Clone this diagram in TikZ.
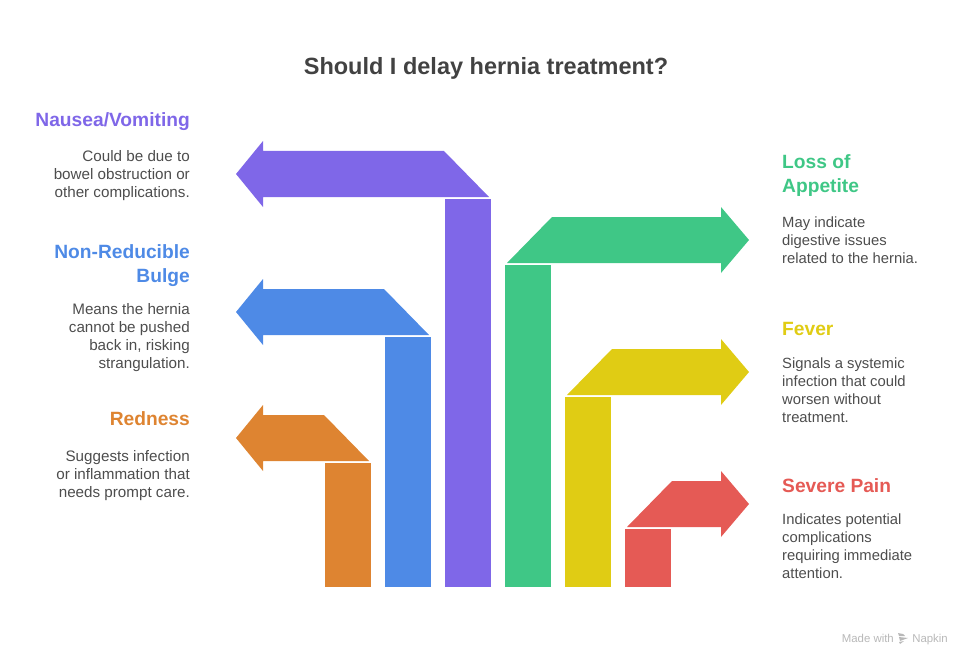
\documentclass[tikz,border=0pt]{standalone}
\usepackage{fontspec}
\usepackage{xcolor}
\setmainfont{Liberation Sans}
\definecolor{cRedness}{HTML}{DE8431}
\definecolor{cBulge}{HTML}{4E8AE6}
\definecolor{cNausea}{HTML}{7F67E8}
\definecolor{cAppetite}{HTML}{3FC786}
\definecolor{cFever}{HTML}{E0CC14}
\definecolor{cPain}{HTML}{E55A55}
\definecolor{cBody}{HTML}{4D4D4D}
\tikzset{
  heading/.style={inner sep=0pt, font=\fontsize{19.2}{24}\selectfont\bfseries},
  headl/.style={heading, anchor=north east, align=right},
  headr/.style={heading, anchor=north west, align=left},
  blurbl/.style={inner sep=0pt, anchor=north east, align=right, text=cBody, font=\fontsize{15.2}{18}\selectfont},
  blurbr/.style={inner sep=0pt, anchor=north west, align=left, text=cBody, font=\fontsize{14.8}{18}\selectfont},
  mark text/.style={inner sep=0pt, anchor=base east, text=black!28, font=\fontsize{11.4}{13}\selectfont},
}
\begin{document}
\begin{tikzpicture}[x=1pt, y=-1pt]
  \useasboundingbox (0,0) rectangle (972,666);
  % Title
  \node [inner sep=0pt, text=black!74, font=\fontsize{23.5}{28}\selectfont\bfseries] (title) at (486,68.5) {Should I delay hernia treatment?};
  % Left bars and arrows
  \foreach \c/\l/\t in {cRedness/325/463, cBulge/385/337, cNausea/445/199} {
    \fill [\c] (\l,\t) rectangle (\l+46,587);
    \fill [\c] (236,\t-25) -- (263,\t-58) -- (263,\t-48) -- (\l-1,\t-48) -- (\l+44,\t-2) -- (263,\t-2) -- (263,\t+8) -- cycle;
  }
  % Right bars and arrows
  \foreach \c/\l/\t in {cAppetite/505/265, cFever/565/397, cPain/625/529} {
    \fill [\c] (\l,\t) rectangle (\l+46,587);
    \fill [\c] (749,\t-25) -- (721,\t-58) -- (721,\t-48) -- (\l+47,\t-48) -- (\l+2,\t-2) -- (721,\t-2) -- (721,\t+8) -- cycle;
  }
  % Left texts
  \node [headl, text=cNausea] (nauseahead) at (190,112) {Nausea/Vomiting};
  \node [blurbl] (nauseatext) at (190,150) {Could be due to\\bowel obstruction or\\other complications.};
  \node [headl, text=cBulge] (bulgehead) at (190,244) {Non-Reducible\\Bulge};
  \node [blurbl] (bulgetext) at (190,303) {Means the hernia\\cannot be pushed\\back in, risking\\strangulation.};
  \node [headl, text=cRedness] (rednesshead) at (190,411) {Redness};
  \node [blurbl] (rednesstext) at (190,450) {Suggests infection\\or inflammation that\\needs prompt care.};
  % Right texts
  \node [headr, text=cAppetite] (appetitehead) at (782,154) {Loss of\\Appetite};
  \node [blurbr] (appetitetext) at (782,217) {May indicate\\digestive issues\\related to the hernia.};
  \node [headr, text=cFever] (feverhead) at (782,322) {Fever};
  \node [blurbr] (fevertext) at (782,358) {Signals a systemic\\infection that could\\worsen without\\treatment.};
  \node [headr, text=cPain] (painhead) at (782,478) {Severe Pain};
  \node [blurbr] (paintext) at (782,514) {Indicates potential\\complications\\requiring immediate\\attention.};
  % Watermark
  \node [mark text] (napkin) at (948,642) {Napkin};
  \node [mark text] (madewith) at (894,642) {Made with};
  \fill [black!28] (898,633) -- (903,634) -- (905,636) -- (899,636) -- cycle;
  \fill [black!28] (899,637) -- (908,638) -- (900,641) -- cycle;
  \fill [black!28] (899,642) -- (904,641) -- (900,644) -- cycle;
\end{tikzpicture}
\end{document}
